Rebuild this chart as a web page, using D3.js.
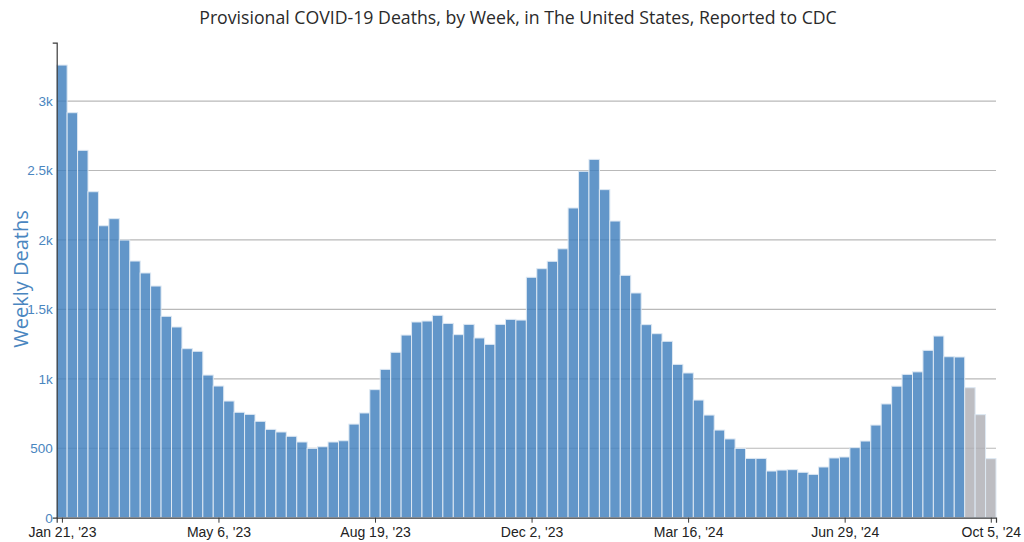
<!DOCTYPE html>
<html>
<head>
<meta charset="utf-8">
<script src="https://cdn.jsdelivr.net/npm/d3@7"></script>
<style>
  html, body { margin: 0; padding: 0; background: #fff; }
  svg { display: block; }
</style>
</head>
<body>
<svg id="chart" width="1024" height="542"></svg>
<script>
// ---- data ----
const firstWeek = "2023-01-21";   // week ending date of the first bar
const weeklyDeaths = [
  3259, 2916, 2645, 2347, 2102, 2153, 1999, 1848, 1762, 1668,
  1450, 1373, 1217, 1198, 1027, 948, 840, 759, 744, 694,
  636, 617, 586, 545, 499, 511, 545, 554, 674, 754,
  922, 1068, 1191, 1315, 1409, 1416, 1457, 1399, 1318, 1392,
  1294, 1248, 1392, 1428, 1423, 1731, 1793, 1846, 1936, 2230,
  2494, 2580, 2362, 2136, 1745, 1618, 1390, 1325, 1270, 1104,
  1042, 847, 739, 631, 567, 499, 427, 427, 336, 343,
  346, 327, 312, 365, 430, 437, 504, 552, 667, 819,
  947, 1032, 1050, 1205, 1308, 1159, 1157, 936, 742, 425
];
const incompleteWeeks = ["2024-09-21", "2024-09-28", "2024-10-05"];
const xTickDates = ["2023-01-21", "2023-05-06", "2023-08-19", "2023-12-02", "2024-03-16", "2024-06-29", "2024-10-05"];
const xTickLabels = ["Jan 21, '23", "May 6, '23", "Aug 19, '23", "Dec 2, '23", "Mar 16, '24", "Jun 29, '24", "Oct 5, '24"];
const yTickValues = [0, 500, 1000, 1500, 2000, 2500, 3000];
const yTickLabels = ["0", "500", "1k", "1.5k", "2k", "2.5k", "3k"];
const yMax = 3420;
const titleText = "Provisional COVID-19 Deaths, by Week, in The United States, Reported to CDC";
const yAxisTitle = "Weekly Deaths";

// ---- build ----
(function () {
const parse = d3.utcParse("%Y-%m-%d");
const start = parse(firstWeek);
const weeks = weeklyDeaths.map((v, i) => ({
  date: d3.utcDay.offset(start, 7 * i),
  value: v
}));
const incompleteSet = new Set(incompleteWeeks);
const fmt = d3.utcFormat("%Y-%m-%d");

const svg = d3.select("#chart");
const pLeft = 56.7, pRight = 996, pTop = 42.7, pBottom = 517.7;

const x = d3.scaleUtc()
  .domain([d3.utcHour.offset(weeks[0].date, -84), d3.utcHour.offset(weeks[weeks.length - 1].date, 84)])
  .range([pLeft, pRight]);
const y = d3.scaleLinear().domain([0, yMax]).range([pBottom, pTop]);
const bw = x(d3.utcDay.offset(start, 7)) - x(start);

// gridlines
svg.append("g")
  .selectAll("line")
  .data(yTickValues.filter(v => v > 0))
  .join("line")
  .attr("x1", pLeft).attr("x2", pRight)
  .attr("y1", d => y(d)).attr("y2", d => y(d))
  .attr("stroke", "#b9b9b9").attr("stroke-width", 1.2);

// bars
svg.append("g")
  .selectAll("rect")
  .data(weeks)
  .join("rect")
  .attr("x", d => x(d.date) - bw / 2)
  .attr("width", bw)
  .attr("y", d => y(d.value))
  .attr("height", d => y(0) - y(d.value))
  .attr("fill", d => incompleteSet.has(fmt(d.date)) ? "#aeafb4" : "#3f7fbd")
  .attr("fill-opacity", 0.82)
  .attr("stroke", "#dde8f3")
  .attr("stroke-width", 1);

// y axis
const yAxis = d3.axisLeft(y)
  .tickValues(yTickValues)
  .tickFormat((d, i) => yTickLabels[i])
  .tickSizeInner(0)
  .tickSizeOuter(4)
  .tickPadding(4);
const gy = svg.append("g").attr("transform", `translate(${pLeft},0)`).call(yAxis);
gy.select(".domain").attr("stroke", "#3a3a3a").attr("stroke-width", 1.2);
gy.selectAll("text")
  .attr("fill", "#4a86c0")
  .style("font-family", "'Liberation Sans', Arial, Helvetica, sans-serif")
  .style("font-size", "13.5px");

// x axis
const xAxis = d3.axisBottom(x)
  .tickValues(xTickDates.map(parse))
  .tickFormat((d, i) => xTickLabels[i])
  .tickSizeInner(5)
  .tickSizeOuter(5)
  .tickPadding(4);
const gx = svg.append("g").attr("transform", `translate(0,${pBottom})`).call(xAxis);
gx.select(".domain").attr("stroke", "#3a3a3a").attr("stroke-width", 1.2);
gx.selectAll(".tick line").attr("stroke", "#3a3a3a");
gx.selectAll("text")
  .attr("fill", "#222")
  .style("font-family", "'Liberation Sans', Arial, Helvetica, sans-serif")
  .style("font-size", "14px");

// title
svg.append("text")
  .attr("x", 518).attr("y", 23.5)
  .attr("text-anchor", "middle")
  .attr("fill", "#2a2a2a")
  .style("font-family", "'Open Sans', sans-serif")
  .style("font-size", "17.7px")
  .text(titleText);

// y axis title
svg.append("text")
  .attr("transform", "translate(28,279) rotate(-90)")
  .attr("text-anchor", "middle")
  .attr("fill", "#4a86c0")
  .style("font-family", "'Open Sans', sans-serif")
  .style("font-size", "20px")
  .text(yAxisTitle);
})();
</script>
</body>
</html>
